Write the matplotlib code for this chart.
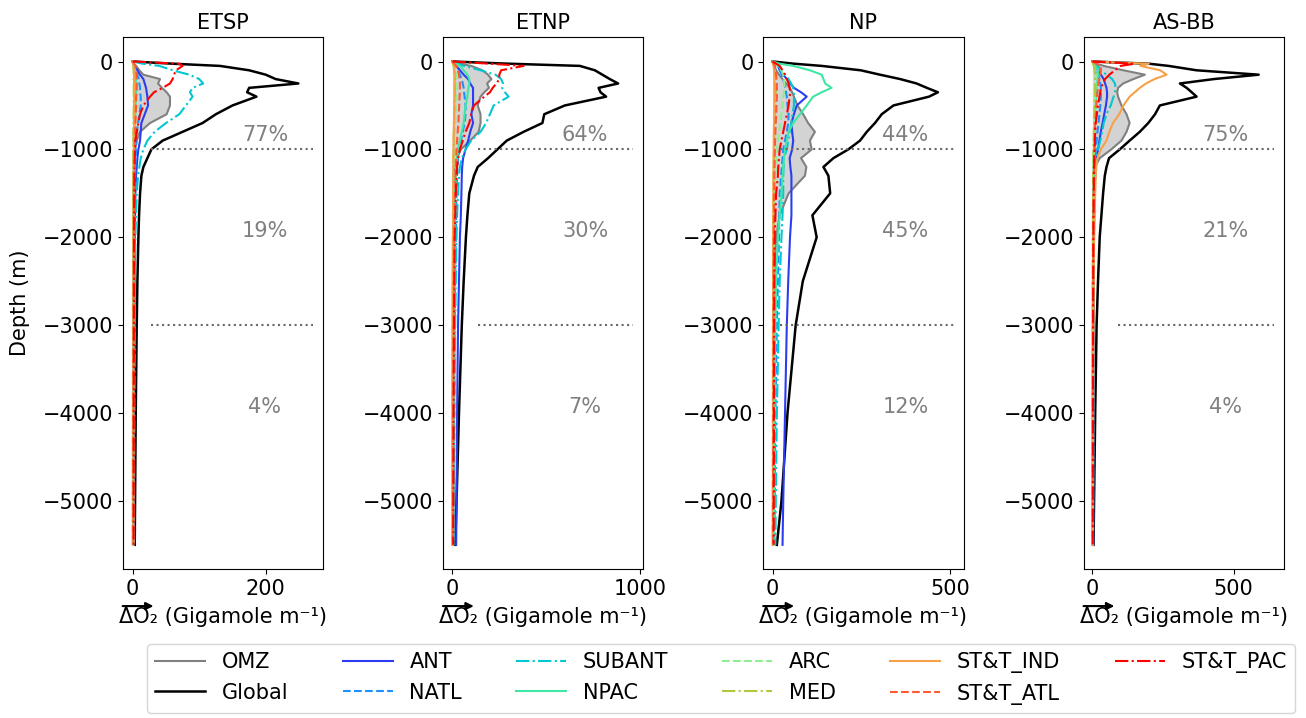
import matplotlib
matplotlib.use("Agg")
import matplotlib.pyplot as plt
import matplotlib.transforms as mtransforms
from matplotlib.patches import FancyArrowPatch

# profundidades (m) comuns a todos os perfis
depth = [0, -25, -50, -100, -150, -200, -250, -300, -350, -400, -500, -600, -700,
         -800, -900, -1000, -1100, -1200, -1300, -1500, -1750, -2000, -2500,
         -3000, -4000, -5000, -5500]

regions = ["ETSP", "ETNP", "NP", "AS-BB"]
series = ["ANT", "NATL", "SUBANT", "NPAC", "ARC", "MED", "ST&T_IND", "ST&T_ATL", "ST&T_PAC"]

# ---- ETSP
etsp_global = [0, 60, 131, 175, 200, 215, 249, 175, 172, 186, 150, 125, 105, 75, 45, 28, 22, 16, 13, 11, 9.5, 8.5, 7, 6, 4.5, 3.5, 3]
etsp_omz = [0, 2, 5, 10, 16, 41, 38, 44, 51, 56, 56, 51, 26, 11, 6, 3.5, 2.5, 2, 1.5, 1, 1, 0.8, 0.6, 0.5, 0.4, 0.3, 0.3]
etsp_ant = [0, 1, 3, 7, 11, 16, 18, 20, 21, 22, 23, 18, 13, 12, 11, 8.5, 7, 6, 5, 4, 3.5, 3, 2.8, 2.5, 2, 1.8, 1.5]
etsp_natl = [0, 1, 2, 5, 7, 9, 10, 11, 11, 12, 12, 10, 8, 6, 5.5, 5, 4.5, 4, 3.5, 3, 2.5, 2.2, 2, 1.8, 1.5, 1.2, 1]
etsp_subant = [0, 15, 40, 60, 85, 100, 106, 90, 86, 90, 80, 70, 50, 33, 22, 16, 12, 10, 8, 6, 5, 4, 3.5, 3, 2.5, 2, 2]
etsp_npac = [0, 1, 2, 3, 4, 5, 5, 5, 5, 5, 4, 4, 3, 3, 2.5, 2, 2, 1.8, 1.5, 1.2, 1, 1, 0.8, 0.7, 0.5, 0.4, 0.3]
etsp_arc = [0, 0.5, 1, 1.5, 2, 2, 2, 2, 2, 2, 2, 1.8, 1.5, 1.2, 1, 1, 1, 0.8, 0.8, 0.6, 0.5, 0.5, 0.4, 0.4, 0.3, 0.2, 0.2]
etsp_med = [0, 0.5, 1, 1.2, 1.5, 1.5, 1.5, 1.5, 1.5, 1.5, 1.4, 1.3, 1.2, 1, 1, 0.9, 0.8, 0.7, 0.7, 0.6, 0.5, 0.5, 0.4, 0.3, 0.3, 0.2, 0.2]
etsp_stt_ind = [0, 1, 1.5, 2, 2, 2, 2, 2, 2, 2, 2, 2, 2, 1.8, 1.5, 1.5, 1.4, 1.3, 1.2, 1.1, 1, 1, 1, 1, 1, 1, 1]
etsp_stt_atl = [0, 2, 4, 5, 6, 6, 6, 6, 6, 5, 5, 4.5, 4, 3.5, 3, 3, 2.8, 2.5, 2.2, 2, 1.8, 1.6, 1.5, 1.3, 1.2, 1, 1]
etsp_stt_pac = [0, 70, 75, 65, 62, 60, 56, 45, 32, 26, 16, 11, 8.5, 6, 4, 3.5, 3, 2.8, 2.5, 2.2, 2, 2, 1.8, 1.7, 1.5, 1.4, 1.3]

# ---- ETNP
etnp_global = [0, 300, 680, 760, 800, 840, 884, 780, 790, 820, 600, 490, 480, 380, 290, 240, 190, 135, 115, 90, 80, 72, 60, 50, 35, 22, 15]
etnp_omz = [0, 40, 100, 160, 190, 208, 185, 195, 170, 150, 135, 150, 150, 140, 95, 45, 25, 15, 10, 6, 4, 3, 2, 1.5, 1, 0.8, 0.5]
etnp_ant = [0, 10, 20, 40, 60, 84, 95, 110, 110, 110, 110, 101, 110, 95, 84, 70, 57, 52, 50, 48, 45, 40, 35, 30, 25, 22, 20]
etnp_natl = [0, 10, 20, 30, 40, 50, 55, 60, 62, 65, 70, 70, 65, 55, 45, 35, 30, 27, 25, 22, 20, 18, 15, 12, 10, 8, 7]
etnp_subant = [0, 30, 60, 150, 230, 260, 270, 265, 280, 300, 220, 200, 180, 150, 100, 70, 50, 40, 35, 30, 25, 22, 18, 15, 10, 7, 5]
etnp_npac = [0, 20, 40, 60, 80, 90, 90, 85, 82, 80, 70, 65, 60, 50, 40, 30, 25, 20, 18, 15, 13, 12, 10, 8, 6, 5, 4]
etnp_arc = [0, 5, 10, 15, 20, 22, 22, 22, 22, 20, 18, 16, 14, 12, 10, 9, 8, 7, 6, 5, 4.5, 4, 3.5, 3, 2.5, 2, 2]
etnp_med = [0, 3, 6, 9, 12, 13, 13, 13, 13, 12, 11, 10, 9, 8, 7, 6, 5.5, 5, 4.5, 4, 3.5, 3, 2.5, 2, 1.5, 1.2, 1]
etnp_stt_ind = [0, 5, 8, 10, 12, 12, 12, 12, 12, 11, 10, 9, 8, 7, 6, 5.5, 5, 4.5, 4, 3.5, 3, 2.8, 2.5, 2, 1.5, 1.2, 1]
etnp_stt_atl = [0, 10, 20, 30, 35, 38, 40, 40, 40, 38, 36, 34, 32, 28, 25, 22, 20, 18, 16, 14, 12, 10, 8, 7, 5, 4, 3]
etnp_stt_pac = [0, 200, 380, 260, 250, 250, 235, 215, 200, 170, 115, 100, 90, 70, 55, 40, 30, 25, 22, 18, 15, 12, 10, 8, 6, 5, 4]

# ---- NP
np_global = [0, 60, 138, 248, 302, 359, 405, 434, 465, 440, 340, 307, 288, 265, 246, 213, 171, 143, 157, 162, 112, 124, 85, 65, 42, 25, 12]
np_omz = [0, 2, 5, 10, 18, 28, 38, 48, 55, 60, 70, 86, 100, 119, 105, 110, 80, 95, 91, 45, 20, 10, 5, 3, 2, 1, 1]
np_ant = [0, 8, 15, 20, 30, 40, 50, 60, 80, 96, 68, 60, 53, 55, 58, 55, 48, 50, 53, 53, 53, 49, 44, 40, 35, 30, 28]
np_natl = [0, 8, 15, 20, 25, 30, 33, 36, 38, 40, 42, 45, 44, 40, 35, 30, 28, 26, 24, 20, 19, 18, 15, 12, 8, 6, 5]
np_subant = [0, 8, 15, 25, 35, 45, 52, 58, 60, 60, 60, 56, 53, 48, 44, 40, 32, 31, 30, 30, 28, 25, 20, 17, 12, 9, 8]
np_npac = [0, 20, 58, 105, 138, 143, 148, 166, 138, 114, 96, 77, 58, 45, 40, 35, 32, 30, 28, 25, 20, 15, 10, 8, 5, 4, 3]
np_arc = [0, 5, 15, 25, 30, 32, 33, 33, 32, 30, 28, 25, 22, 18, 15, 12, 10, 9, 8, 6, 5, 4, 3, 2.5, 2, 1.5, 1]
np_med = [0, 2, 4, 6, 8, 9, 9, 9, 9, 9, 8, 7, 6, 5, 4.5, 4, 3.5, 3, 2.8, 2.5, 2, 1.8, 1.5, 1.2, 1, 0.8, 0.6]
np_stt_ind = [0, 2, 3, 4, 5, 5, 5, 5, 5, 5, 5, 4.5, 4, 3.5, 3, 3, 2.8, 2.5, 2.3, 2, 1.8, 1.6, 1.4, 1.2, 1, 0.8, 0.7]
np_stt_atl = [0, 4, 6, 8, 10, 11, 12, 12, 12, 12, 11, 10, 9, 8, 7, 6.5, 6, 5.5, 5, 4.5, 4, 3.5, 3, 2.5, 2, 1.5, 1.2]
np_stt_pac = [0, 10, 20, 28, 35, 40, 45, 48, 50, 48, 45, 40, 35, 30, 25, 20, 18, 16, 15, 10, 8, 6, 5, 4.5, 4, 3.5, 3]

# ---- AS-BB
asbb_global = [0, 200, 270, 369, 589, 430, 310, 334, 352, 369, 239, 222, 198, 168, 132, 97, 59, 50, 44, 38, 32, 26, 20, 15, 10, 6, 4]
asbb_omz = [0, 15, 40, 110, 186, 145, 109, 91, 88, 91, 103, 121, 132, 121, 103, 67, 26, 9, 6, 4, 3, 2.5, 2, 1.5, 1, 0.8, 0.5]
asbb_ant = [0, 5, 10, 20, 30, 40, 45, 50, 52, 52, 48, 42, 36, 30, 25, 20, 15, 12, 10, 8, 6, 5, 4.5, 4, 3.5, 3, 3]
asbb_natl = [0, 5, 10, 15, 20, 25, 28, 30, 30, 30, 28, 25, 22, 18, 15, 12, 10, 9, 8, 7, 6, 5, 4, 3.5, 3, 2.5, 2]
asbb_subant = [0, 10, 20, 30, 50, 70, 80, 82, 80, 75, 65, 50, 40, 35, 28, 20, 15, 12, 10, 8, 7, 6, 5, 4, 3, 2.5, 2]
asbb_npac = [0, 5, 10, 20, 20, 18, 16, 15, 14, 13, 12, 10, 9, 8, 7, 6, 5, 4.5, 4, 3.5, 3, 2.5, 2, 1.8, 1.5, 1.2, 1]
asbb_arc = [0, 3, 6, 10, 12, 12, 12, 11, 10, 10, 9, 8, 7, 6, 5, 4.5, 4, 3.5, 3, 2.5, 2, 1.8, 1.5, 1.2, 1, 0.8, 0.6]
asbb_med = [0, 3, 5, 8, 10, 10, 10, 10, 9, 9, 8, 7, 6, 5, 4.5, 4, 3.5, 3, 2.8, 2.5, 2, 1.8, 1.5, 1.2, 1, 0.8, 0.6]
asbb_stt_ind = [0, 200, 170, 240, 263, 220, 190, 168, 150, 132, 110, 95, 73, 60, 50, 30, 18, 14, 12, 10, 8, 6, 5, 4, 3, 2.5, 2]
asbb_stt_atl = [0, 15, 30, 30, 28, 25, 22, 20, 18, 16, 14, 12, 10, 9, 8, 7, 6, 5.5, 5, 4.5, 4, 3.5, 3, 2.5, 2, 1.5, 1.2]
asbb_stt_pac = [0, 150, 100, 80, 60, 45, 38, 30, 28, 25, 20, 16, 12, 10, 9, 8, 7, 6, 5.5, 5, 4, 3.5, 3, 2.5, 2, 1.8, 1.5]

# percentuais por camada (0-1000, 1000-3000, >3000 m)
pct_upper = ["77%", "64%", "44%", "75%"]
pct_mid = ["19%", "30%", "45%", "21%"]
pct_deep = ["4%", "7%", "12%", "4%"]

xticks = [[0, 200], [0, 1000], [0, 500], [0, 500]]
xlims = [(-15, 286), (-50, 1018), (-26, 537), (-31, 678)]
dot_start = [0.14, 0.175, 0.085, 0.17]

perfis = {
    "ETSP": (etsp_global, etsp_omz, [etsp_ant, etsp_natl, etsp_subant, etsp_npac, etsp_arc,
                                     etsp_med, etsp_stt_ind, etsp_stt_atl, etsp_stt_pac]),
    "ETNP": (etnp_global, etnp_omz, [etnp_ant, etnp_natl, etnp_subant, etnp_npac, etnp_arc,
                                     etnp_med, etnp_stt_ind, etnp_stt_atl, etnp_stt_pac]),
    "NP": (np_global, np_omz, [np_ant, np_natl, np_subant, np_npac, np_arc,
                               np_med, np_stt_ind, np_stt_atl, np_stt_pac]),
    "AS-BB": (asbb_global, asbb_omz, [asbb_ant, asbb_natl, asbb_subant, asbb_npac, asbb_arc,
                                      asbb_med, asbb_stt_ind, asbb_stt_atl, asbb_stt_pac]),
}

cores = ["#2b3cf2", "#1e8fff", "#00c8d2", "#3ee8a4", "#90ee90", "#b0c83c", "#f7a04a", "#ff5a32", "#ff0000"]
estilos = ["-", "--", "-.", "-", "--", "-.", "-", "--", "-."]

plt.rcParams["font.size"] = 15

fig, axes = plt.subplots(1, 4, figsize=(13.06, 7.18), dpi=100)
fig.subplots_adjust(left=0.094, right=0.983, bottom=0.2075, top=0.948, wspace=0.6)

for i, (ax, reg) in enumerate(zip(axes, regions)):
    glob, omz, outros = perfis[reg]

    ax.fill_betweenx(depth, 0, omz, color="#d3d3d3", lw=0)
    ax.plot(omz, depth, color="gray", lw=1.5, label="OMZ")
    ax.plot(glob, depth, color="black", lw=1.8, label="Global")
    for vals, nome, cor, ls in zip(outros, series, cores, estilos):
        ax.plot(vals, depth, color=cor, ls=ls, lw=1.5, label=nome)

    # linhas pontilhadas nas camadas
    for yl in (-1000, -3000):
        ax.axhline(yl, xmin=dot_start[i], xmax=0.95, color="dimgray", ls=":", lw=1.5)

    trans = mtransforms.blended_transform_factory(ax.transAxes, ax.transData)
    for txt, yy in zip((pct_upper[i], pct_mid[i], pct_deep[i]), (-900, -2000, -4000)):
        ax.text(0.71, yy, txt, transform=trans, ha="center", va="baseline", color="gray", fontsize=15)

    ax.set_xlim(*xlims[i])
    ax.set_ylim(-5775, 275)
    ax.set_xticks(xticks[i])
    ax.set_yticks([0, -1000, -2000, -3000, -4000, -5000])
    ax.set_title(reg, fontsize=15)
    ax.set_xlabel("ΔO₂ (Gigamole m⁻¹)", fontsize=15, labelpad=6)

axes[0].set_ylabel("Depth (m)", fontsize=15, labelpad=9)

handles, labels = axes[0].get_legend_handles_labels()
fig.legend(handles, labels, loc="center", bbox_to_anchor=(0.552, 0.055), ncol=6,
           fontsize=15, handlelength=2.4, columnspacing=2.6, frameon=True)

# seta sobre o ΔO₂ de cada rótulo
fig.canvas.draw()
rend = fig.canvas.get_renderer()
inv = fig.transFigure.inverted()
for ax in axes:
    bb = ax.xaxis.label.get_window_extent(rend)
    p0 = inv.transform((bb.x0 + 1, bb.y1 + 1))
    p1 = inv.transform((bb.x0 + 0.18 * bb.width, bb.y1 + 1))
    seta = FancyArrowPatch(p0, p1, transform=fig.transFigure, arrowstyle="-|>",
                           mutation_scale=11, lw=1.5, color="black")
    fig.add_artist(seta)

fig.savefig("out.png", dpi=100)
